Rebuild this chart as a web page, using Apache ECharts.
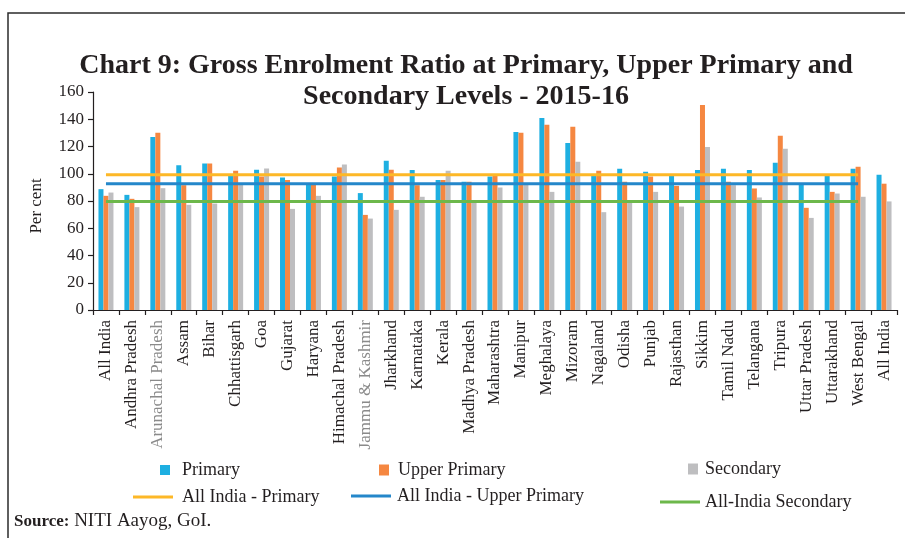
<!DOCTYPE html>
<html>
<head>
<meta charset="utf-8">
<script src="https://cdn.jsdelivr.net/npm/echarts@6/dist/echarts.min.js"></script>
<style>
  html, body { margin: 0; padding: 0; background: #fff; }
  #chart { width: 905px; height: 538px; }
</style>
</head>
<body>
<div id="chart"></div>
<script>
// Gross Enrolment Ratio by state, 2015-16
const states = [
  'All India', 'Andhra Pradesh', 'Arunachal Pradesh', 'Assam', 'Bihar', 'Chhattisgarh',
  'Goa', 'Gujarat', 'Haryana', 'Himachal Pradesh', 'Jammu & Kashmir', 'Jharkhand',
  'Karnataka', 'Kerala', 'Madhya Pradesh', 'Maharashtra', 'Manipur', 'Meghalaya',
  'Mizoram', 'Nagaland', 'Odisha', 'Punjab', 'Rajasthan', 'Sikkim', 'Tamil Nadu',
  'Telangana', 'Tripura', 'Uttar Pradesh', 'Uttarakhand', 'West Bengal', 'All India'
];
// state names printed in a lighter grey on the axis
const greyedStates = ['Arunachal Pradesh', 'Jammu & Kashmir'];

const primary = [
  88.7, 84.5, 126.9, 106.3, 107.5, 98.7, 102.9, 97.3, 91.9, 98.0, 85.8, 109.5,
  102.7, 95.5, 94.1, 98.0, 130.6, 140.9, 122.5, 98.5, 103.6, 101.4, 98.3, 102.7,
  103.6, 102.7, 108.0, 92.4, 98.3, 103.6, 99.2
];
const upperPrimary = [
  83.8, 81.6, 130.1, 91.6, 107.5, 102.2, 98.0, 95.5, 91.9, 104.6, 69.8, 102.9,
  91.6, 95.5, 94.1, 98.7, 130.1, 136.0, 134.5, 102.2, 94.1, 98.0, 91.1, 150.4,
  94.1, 89.2, 127.9, 75.0, 86.7, 105.1, 92.7
];
const secondary = [
  86.2, 75.5, 89.4, 77.2, 78.1, 91.9, 103.9, 74.2, 83.8, 106.8, 67.1, 73.5,
  83.1, 102.2, 79.6, 89.9, 91.9, 86.7, 108.8, 71.8, 80.0, 86.7, 75.9, 119.6,
  91.6, 82.6, 118.3, 67.6, 85.5, 83.1, 79.7
];

// All-India reference levels, drawn across the states (not over the final All India group)
const allIndiaPrimary = 99.2;
const allIndiaUpperPrimary = 92.7;
const allIndiaSecondary = 79.7;

const yTicks = { min: 0, max: 160, step: 20 };

const SERIF = '"Liberation Serif", "Times New Roman", serif';
const INK = '#231f20';
const C_PRIMARY = '#1eafe1';
const C_UPPER = '#f58741';
const C_SECOND = '#bebec0';
const C_L_PRIMARY = '#fdb827';
const C_L_UPPER = '#2587ca';
const C_L_SECOND = '#6db84b';

function refLine(v) {
  return states.map((s, i) => (i < states.length - 1 ? v : '-'));
}

const categoryData = states.map(s =>
  greyedStates.includes(s) ? { value: s, textStyle: { color: '#8a8a8a' } } : s
);

function legendAt(name, left, top, icon, w, h, gap) {
  return {
    data: [name],
    left: left, top: top,
    orient: 'horizontal',
    padding: 0,
    icon: icon,
    itemWidth: w, itemHeight: h,
    selectedMode: false,
    textStyle: {
      fontFamily: SERIF, fontSize: 18, color: INK,
      lineHeight: 20, padding: [0, 0, 0, gap]
    }
  };
}

const chart = echarts.init(document.getElementById('chart'), null, { renderer: 'canvas' });

chart.setOption({
  animation: false,
  backgroundColor: '#fff',
  title: {
    text: 'Chart 9: Gross Enrolment Ratio at Primary, Upper Primary and\nSecondary Levels - 2015-16',
    left: 461, top: 45,
    textAlign: 'center',
    textStyle: {
      fontFamily: SERIF, fontWeight: 'bold', fontSize: 28,
      color: INK, lineHeight: 31
    }
  },
  graphic: [
    {
      type: 'rect',
      shape: { x: 8, y: 13, width: 910, height: 540 },
      style: { fill: 'none', stroke: '#2b2b2b', lineWidth: 1.5 },
      silent: true
    },
    {
      type: 'text',
      left: 14, top: 512,
      style: {
        text: '{b|Source:}{r| NITI Aayog, GoI.}',
        rich: {
          b: { fontFamily: SERIF, fontWeight: 'bold', fontSize: 17, fill: INK },
          r: { fontFamily: SERIF, fontSize: 19, fill: INK }
        },
        fontFamily: SERIF, fontSize: 17, fill: INK
      }
    },
    {
      type: 'text',
      x: 37, y: 206,
      rotation: Math.PI / 2,
      style: {
        text: 'Per cent',
        fontFamily: SERIF, fontSize: 17, fill: INK,
        align: 'center', verticalAlign: 'middle'
      }
    }
  ],
  legend: [
    legendAt('Primary', 160, 460, 'rect', 10, 10, 7),
    legendAt('Upper Primary', 379, 460, 'rect', 10, 11, 4),
    legendAt('Secondary', 688, 459, 'rect', 10, 11, 2),
    legendAt('All India - Primary', 133, 487, 'rect', 40, 3, 4),
    legendAt('All India - Upper Primary', 351, 486, 'rect', 40, 3, 1),
    legendAt('All-India Secondary', 660, 492, 'rect', 40, 3, 0)
  ],
  grid: { left: 93, right: 8, top: 92, bottom: 228, containLabel: false },
  xAxis: {
    type: 'category',
    data: categoryData,
    axisLine: { show: true, lineStyle: { color: INK, width: 1.2 } },
    axisTick: { show: true, alignWithLabel: false, length: 5, lineStyle: { color: INK, width: 1.2 } },
    axisLabel: {
      interval: 0, rotate: 90, margin: 10,
      fontFamily: SERIF, fontSize: 17, color: INK
    },
    splitLine: { show: false }
  },
  yAxis: {
    type: 'value',
    min: yTicks.min, max: yTicks.max, interval: yTicks.step,
    axisLine: { show: true, lineStyle: { color: INK, width: 1.2 } },
    axisTick: { show: true, inside: false, length: 5, lineStyle: { color: INK, width: 1.2 } },
    axisLabel: { margin: 9, fontFamily: SERIF, fontSize: 17, color: INK },
    splitLine: { show: false }
  },
  series: [
    {
      name: 'Primary', type: 'bar', data: primary,
      barWidth: 5, barGap: '0%',
      itemStyle: { color: C_PRIMARY }, z: 2
    },
    {
      name: 'Upper Primary', type: 'bar', data: upperPrimary,
      barWidth: 5, barGap: '0%',
      itemStyle: { color: C_UPPER }, z: 2
    },
    {
      name: 'Secondary', type: 'bar', data: secondary,
      barWidth: 5, barGap: '0%',
      itemStyle: { color: C_SECOND }, z: 2
    },
    {
      name: 'All India - Primary', type: 'line', data: refLine(allIndiaPrimary),
      showSymbol: false, symbol: 'none',
      lineStyle: { color: C_L_PRIMARY, width: 3 }, itemStyle: { color: C_L_PRIMARY }, z: 5
    },
    {
      name: 'All India - Upper Primary', type: 'line', data: refLine(allIndiaUpperPrimary),
      showSymbol: false, symbol: 'none',
      lineStyle: { color: C_L_UPPER, width: 3 }, itemStyle: { color: C_L_UPPER }, z: 5
    },
    {
      name: 'All-India Secondary', type: 'line', data: refLine(allIndiaSecondary),
      showSymbol: false, symbol: 'none',
      lineStyle: { color: C_L_SECOND, width: 3 }, itemStyle: { color: C_L_SECOND }, z: 5
    }
  ]
});
</script>
</body>
</html>
